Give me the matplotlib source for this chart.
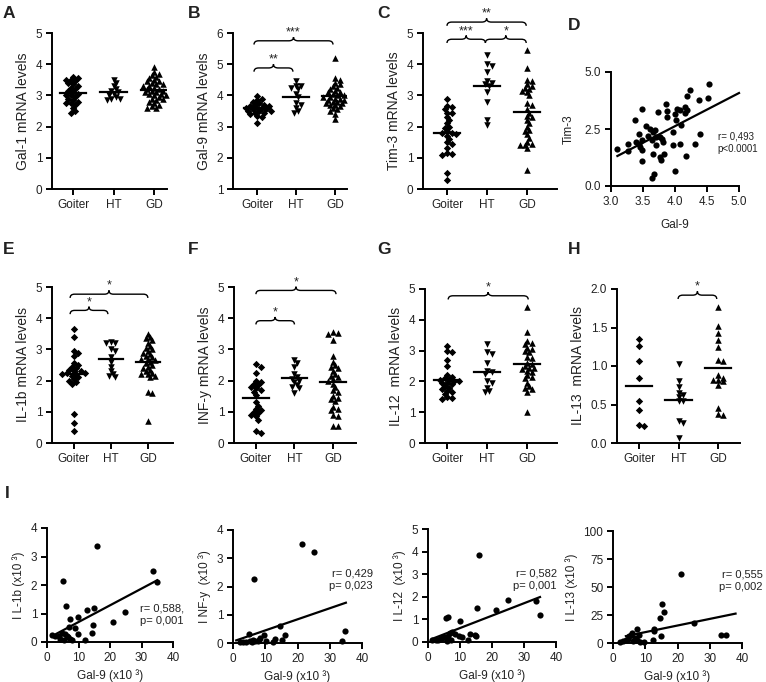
import numpy as np
import matplotlib
matplotlib.use('Agg')
import matplotlib.pyplot as plt
from matplotlib.path import Path
from matplotlib.patches import PathPatch

plt.rcParams['font.family'] = ['Liberation Sans', 'DejaVu Sans']

W, H = 766, 682
TXT = '#222222'

groups = ['Goiter', 'HT', 'GD']

# A - Gal-1 mRNA levels
gal1_goiter = [3.6, 3.55, 3.5, 3.5, 3.45, 3.4, 3.35, 3.3, 3.25, 3.2, 3.15, 3.1, 3.05, 3.0, 3.0,
               2.95, 2.9, 2.85, 2.8, 2.75, 2.75, 2.7, 2.6, 2.5, 2.45]
gal1_ht = [3.5, 3.4, 3.3, 3.2, 3.15, 3.1, 3.05, 3.0, 2.95, 2.9, 2.9, 2.85]
gal1_gd = [3.9, 3.75, 3.7, 3.65, 3.6, 3.55, 3.5, 3.45, 3.45, 3.4, 3.35, 3.35, 3.3, 3.3, 3.25, 3.2,
           3.2, 3.15, 3.15, 3.1, 3.1, 3.05, 3.05, 3.0, 3.0, 2.95, 2.9, 2.9, 2.85, 2.8, 2.75, 2.7,
           2.65, 2.6, 2.6]

# B - Gal-9 mRNA levels
gal9_goiter = [3.98, 3.9, 3.85, 3.8, 3.75, 3.7, 3.7, 3.65, 3.65, 3.6, 3.6, 3.6, 3.55, 3.55, 3.5,
               3.5, 3.5, 3.45, 3.45, 3.4, 3.35, 3.3, 3.1]
gal9_ht = [4.45, 4.3, 4.3, 4.25, 4.2, 4.05, 3.95, 3.75, 3.7, 3.6, 3.5, 3.45]
gal9_gd = [5.2, 4.55, 4.5, 4.4, 4.35, 4.3, 4.25, 4.2, 4.15, 4.1, 4.1, 4.05, 4.0, 4.0, 3.95, 3.95,
           3.9, 3.9, 3.85, 3.85, 3.8, 3.8, 3.75, 3.75, 3.7, 3.7, 3.65, 3.6, 3.55, 3.5, 3.4, 3.25]

# C - Tim-3 mRNA levels
tim3_goiter = [2.88, 2.65, 2.62, 2.55, 2.45, 2.42, 2.3, 2.2, 2.1, 2.0, 1.95, 1.85, 1.8, 1.8, 1.75,
               1.7, 1.6, 1.5, 1.45, 1.3, 1.15, 1.12, 1.1, 0.5, 0.3]
tim3_ht = [4.28, 4.0, 3.95, 3.75, 3.45, 3.4, 3.35, 3.3, 3.1, 2.8, 2.2, 2.05]
tim3_gd = [4.45, 3.88, 3.5, 3.45, 3.35, 3.3, 3.25, 3.2, 3.15, 3.1, 3.0, 2.75, 2.7, 2.55, 2.45,
           2.35, 2.3, 2.2, 2.1, 2.0, 1.9, 1.85, 1.75, 1.65, 1.5, 1.45, 1.4, 1.4, 1.3, 0.62]

# D - Tim-3 vs Gal-9
d_gal9 = [3.09, 3.26, 3.26, 3.38, 3.43, 3.39, 3.44, 3.45, 3.48, 3.49, 3.48, 3.48, 3.55, 3.58, 3.61,
          3.64, 3.65, 3.64, 3.67, 3.66, 3.69, 3.71, 3.71, 3.74, 3.77, 3.77, 3.78, 3.79, 3.82, 3.83,
          3.86, 3.87, 3.88, 3.97, 3.97, 4.0, 4.0, 4.01, 4.03, 4.08, 4.08, 4.1, 4.16, 4.16, 4.17,
          4.18, 4.19, 4.24, 4.31, 4.38, 4.39, 4.52, 4.53]
d_tim3 = [1.64, 1.86, 1.52, 2.88, 2.30, 1.93, 1.86, 1.71, 3.36, 2.0, 1.56, 1.10, 2.62, 2.18, 2.51,
          2.0, 2.37, 0.35, 0.54, 1.42, 2.44, 2.15, 1.78, 3.25, 2.15, 1.27, 1.15, 2.05, 1.93, 1.42,
          3.60, 3.03, 3.30, 1.78, 2.37, 3.16, 0.66, 2.88, 3.39, 3.33, 1.83, 2.66, 3.48, 3.22, 1.30,
          3.93, 3.33, 4.23, 1.83, 3.79, 2.30, 3.87, 4.46]

# E - IL-1b mRNA levels
il1b_goiter = [3.65, 3.4, 2.95, 2.9, 2.8, 2.55, 2.5, 2.45, 2.4, 2.35, 2.3, 2.3, 2.25, 2.25, 2.2,
               2.2, 2.15, 2.1, 2.05, 2.0, 1.95, 1.88, 0.92, 0.65, 0.4]
il1b_ht = [3.25, 3.2, 3.2, 3.0, 2.95, 2.75, 2.6, 2.45, 2.3, 2.2, 2.15, 2.1]
il1b_gd = [3.5, 3.4, 3.35, 3.3, 3.2, 3.1, 3.05, 3.0, 2.95, 2.9, 2.85, 2.8, 2.75, 2.7, 2.7, 2.65,
           2.6, 2.55, 2.5, 2.45, 2.4, 2.35, 2.3, 2.25, 2.2, 2.2, 2.15, 2.1, 1.65, 1.6, 0.7]

# F - INF-y mRNA levels
infg_goiter = [2.52, 2.45, 2.25, 2.0, 1.95, 1.9, 1.85, 1.8, 1.75, 1.7, 1.65, 1.55, 1.3, 1.2, 1.1,
               1.05, 1.0, 0.95, 0.9, 0.85, 0.75, 0.38, 0.33]
infg_ht = [2.65, 2.55, 2.45, 2.2, 2.1, 2.05, 2.0, 1.95, 1.85, 1.8, 1.75, 1.6]
infg_gd = [3.55, 3.52, 3.5, 3.3, 2.8, 2.6, 2.5, 2.45, 2.4, 2.3, 2.2, 2.15, 2.1, 2.05, 2.0, 1.9,
           1.8, 1.7, 1.65, 1.5, 1.45, 1.4, 1.35, 1.15, 1.1, 1.05, 0.9, 0.85, 0.55, 0.55]

# G - IL-12 mRNA levels
il12_goiter = [3.15, 2.98, 2.95, 2.7, 2.5, 2.2, 2.15, 2.1, 2.05, 2.05, 2.0, 2.0, 1.95, 1.95, 1.9,
               1.85, 1.8, 1.75, 1.7, 1.65, 1.6, 1.5, 1.45, 1.42]
il12_ht = [3.2, 2.95, 2.9, 2.6, 2.35, 2.3, 2.25, 2.0, 1.95, 1.8, 1.7, 1.65]
il12_gd = [4.4, 3.6, 3.3, 3.25, 3.2, 3.1, 3.05, 3.0, 2.95, 2.8, 2.75, 2.6, 2.55, 2.5, 2.45, 2.45,
           2.4, 2.35, 2.3, 2.2, 2.15, 2.1, 1.95, 1.85, 1.8, 1.75, 1.65, 1.0]

# H - IL-13 mRNA levels
il13_goiter = [1.35, 1.26, 1.06, 0.85, 0.55, 0.43, 0.22, 0.24]
il13_ht = [1.02, 0.8, 0.73, 0.65, 0.62, 0.6, 0.55, 0.55, 0.28, 0.26, 0.06]
il13_gd = [1.77, 1.52, 1.43, 1.34, 1.25, 1.08, 1.07, 0.88, 0.85, 0.82, 0.82, 0.8, 0.75, 0.45,
           0.37, 0.38]

# I - cytokines vs Gal-9 (x10^3)
i1_gal9 = [15.8, 33.5, 34.9, 5.05, 6.1, 15.05, 12.6, 9.8, 7.4, 24.9, 21.05, 14.7, 8.9, 7.05, 14.2,
           9.7, 12.1, 1.6, 2.6, 3.7, 4.2, 4.7, 5.8, 6.3, 6.8, 7.4, 7.9, 5.3]
i1_il1b = [3.37, 2.5, 2.09, 2.14, 1.25, 1.2, 1.12, 0.88, 0.8, 1.05, 0.7, 0.58, 0.48, 0.52, 0.32,
           0.27, 0.08, 0.24, 0.2, 0.21, 0.12, 0.3, 0.27, 0.2, 0.18, 0.12, 0.06, 0.06]
i2_gal9 = [21.4, 25.2, 6.6, 14.7, 34.8, 33.8, 16.0, 5.1, 13.1, 15.2, 9.5, 10.3, 8.5, 2.1, 3.1,
           4.1, 5.4, 6.2, 6.9, 7.8, 5.9, 12.5, 8.0]
i2_infg = [3.5, 3.22, 2.27, 0.61, 0.42, 0.08, 0.28, 0.31, 0.14, 0.09, 0.29, 0.06, 0.19, 0.02, 0.05,
           0.04, 0.07, 0.09, 0.06, 0.08, 0.02, 0.05, 0.12]
i3_gal9 = [15.8, 25.1, 21.3, 15.3, 33.6, 35.1, 5.5, 6.1, 9.9, 7.6, 6.8, 8.4, 13.1, 14.7, 15.0,
           9.7, 10.5, 12.6, 6.3, 7.3, 1.4, 2.4, 3.1, 3.7, 4.5, 5.0, 5.8]
i3_il12 = [3.86, 1.87, 1.43, 1.49, 1.8, 1.21, 1.06, 1.09, 0.94, 0.44, 0.40, 0.37, 0.37, 0.32, 0.25,
           0.28, 0.21, 0.1, 0.25, 0.07, 0.07, 0.1, 0.07, 0.13, 0.18, 0.22, 0.03]
i4_gal9 = [21.1, 15.3, 15.9, 14.5, 14.8, 25.1, 33.6, 35.0, 7.5, 8.1, 5.7, 5.8, 5.0, 12.5, 9.6,
           3.1, 2.1, 3.9, 6.75, 7.3, 6.2, 8.3, 12.8, 12.7, 4.5]
i4_il13 = [61.2, 34.6, 28.1, 22.2, 6.5, 17.8, 6.8, 6.8, 12.4, 7.4, 7.4, 8.9, 5.9, 2.4, 0.9,
           1.5, 0.9, 2.4, 4.4, 2.4, 1.5, 0.9, 11.0, 12.5, 3.5]

corr_text = ['r= 0,493\np<0.0001', 'r= 0,588,\np= 0,001', 'r= 0,429\np= 0,023',
             'r= 0,582\np= 0,001', 'r= 0,555\np= 0,002']


def px_axes(fig, x0, x1, y0, y1):
    # axes from pixel box (top-left origin)
    return fig.add_axes([x0 / W, 1 - y1 / H, (x1 - x0) / W, (y1 - y0) / H])


def style(ax, fs=8.5):
    ax.spines['top'].set_visible(False)
    ax.spines['right'].set_visible(False)
    ax.spines['left'].set_linewidth(1.4)
    ax.spines['bottom'].set_linewidth(1.4)
    ax.tick_params(width=1.4, length=4, labelsize=fs, labelcolor=TXT, pad=3)


def swarm(ax, xc, vals, d):
    # simple beeswarm in pixel space so markers don't pile up
    vals = np.asarray(vals, float)
    pts = ax.transData.transform(np.column_stack([np.full(len(vals), xc), vals]))
    x0 = pts[0, 0]
    ys = pts[:, 1]
    xs = np.full(len(vals), x0)
    placed = []
    steps = [0]
    for k in range(1, 30):
        steps += [k * d * 0.5, -k * d * 0.5]
    for i in np.argsort(-vals):
        for off in steps:
            ok = True
            for (px, py) in placed:
                if np.hypot(x0 + off - px, (ys[i] - py) * 1.3) < d:
                    ok = False
                    break
            if ok:
                xs[i] = x0 + off
                break
        placed.append((xs[i], ys[i]))
    inv = ax.transData.inverted()
    return inv.transform(np.column_stack([xs, ys]))[:, 0]


def brace(ax, x1, x2, y, label, h):
    w = 0.12
    xm = (x1 + x2) / 2
    verts = [(x1, y - h), (x1, y), (x1 + w, y), (xm - w, y), (xm, y), (xm, y + h),
             (xm, y), (xm + w, y), (x2 - w, y), (x2, y), (x2, y - h)]
    codes = [Path.MOVETO, Path.CURVE3, Path.CURVE3, Path.LINETO, Path.CURVE3, Path.CURVE3,
             Path.CURVE3, Path.CURVE3, Path.LINETO, Path.CURVE3, Path.CURVE3]
    ax.add_patch(PathPatch(Path(verts, codes), fc='none', ec='black', lw=1.0, clip_on=False))
    ax.text(xm, y + h * 0.6, label, ha='center', va='bottom', fontsize=9, color=TXT, clip_on=False)


def dot_panel(ax, data, xlim, ylim, yticks, ylabel, tick_fmt=None):
    ax.set_xlim(xlim)
    ax.set_ylim(ylim)
    style(ax)
    markers = ['D', 'v', '^']
    sizes = [14, 22, 22]
    for i, vals in enumerate(data):
        xs = swarm(ax, i, vals, 4.6)
        ax.scatter(xs, vals, marker=markers[i], s=sizes[i], c='black', linewidths=0, clip_on=False, zorder=3)
        m = np.mean(vals)
        ax.plot([i - 0.33, i + 0.33], [m, m], color='black', lw=1.6, zorder=4)
    ax.set_xticks(range(3))
    ax.set_xticklabels(groups)
    ax.set_yticks(yticks)
    if tick_fmt:
        ax.set_yticklabels([tick_fmt % t for t in yticks])
    ax.set_ylabel(ylabel, fontsize=10, color=TXT, labelpad=4)


def corr_panel(ax, x, y, xlim, ylim, xticks, yticks, line_x, xlabel, ylabel, fmt=None):
    ax.set_xlim(xlim)
    ax.set_ylim(ylim)
    style(ax)
    ax.scatter(x, y, s=20, c='black', linewidths=0, clip_on=False, zorder=3)
    slope, icpt = np.polyfit(x, y, 1)
    lx = np.array(line_x)
    ax.plot(lx, slope * lx + icpt, color='black', lw=1.6, clip_on=False)
    ax.set_xticks(xticks)
    ax.set_yticks(yticks)
    if fmt:
        ax.set_xticklabels([fmt % t for t in xticks])
        ax.set_yticklabels([fmt % t for t in yticks])
    ax.set_xlabel(xlabel, fontsize=8.5, color=TXT, labelpad=4)
    ax.set_ylabel(ylabel, fontsize=8.5, color=TXT, labelpad=4)


fig = plt.figure(figsize=(W / 100, H / 100), dpi=100)

# A
ax = px_axes(fig, 52, 167, 33, 189)
dot_panel(ax, [gal1_goiter, gal1_ht, gal1_gd], (-0.52, 2.32), (0, 5), range(6), 'Gal-1 mRNA levels')

# B
ax = px_axes(fig, 233, 347, 33, 189)
dot_panel(ax, [gal9_goiter, gal9_ht, gal9_gd], (-0.62, 2.31), (1, 6), range(1, 7), 'Gal-9 mRNA levels')
brace(ax, -0.08, 0.92, 4.88, '**', 0.12)
brace(ax, -0.08, 1.95, 5.75, '***', 0.12)

# C
ax = px_axes(fig, 423, 557, 33, 189)
dot_panel(ax, [tim3_goiter, tim3_ht, tim3_gd], (-0.6, 2.75), (0, 5), range(6), 'Tim-3 mRNA levels')
brace(ax, 0.0, 0.96, 4.8, '***', 0.12)
brace(ax, 0.96, 1.98, 4.8, '*', 0.12)
brace(ax, 0.0, 1.98, 5.35, '**', 0.12)

# D
ax = px_axes(fig, 611, 739, 72, 186)
corr_panel(ax, d_gal9, d_tim3, (3, 5), (0, 5), [3.0, 3.5, 4.0, 4.5, 5.0], [0, 2.5, 5.0],
           [3.1, 5.0], 'Gal-9', 'Tim-3', fmt='%.1f')
ax.xaxis.labelpad = 8
ax.yaxis.labelpad = 7
ax.text(4.67, 1.9, corr_text[0], fontsize=7, color=TXT, ha='left', va='center', linespacing=1.25)

# E
ax = px_axes(fig, 52, 173, 287, 443)
dot_panel(ax, [il1b_goiter, il1b_ht, il1b_gd], (-0.59, 2.68), (0, 5), range(6), 'IL-1b mRNA levels')
brace(ax, -0.1, 0.92, 4.25, '*', 0.12)
brace(ax, -0.1, 2.0, 4.77, '*', 0.12)

# F
ax = px_axes(fig, 234, 356, 287, 443)
dot_panel(ax, [infg_goiter, infg_ht, infg_gd], (-0.57, 2.6), (0, 5), range(6), 'INF-y mRNA levels')
brace(ax, 0.0, 1.0, 3.92, '*', 0.12)
brace(ax, 0.0, 2.08, 4.89, '*', 0.12)

# G
ax = px_axes(fig, 425, 557, 289, 443)
dot_panel(ax, [il12_goiter, il12_ht, il12_gd], (-0.55, 2.75), (0, 5), range(6), 'IL-12  mRNA levels')
brace(ax, 0.03, 2.03, 4.78, '*', 0.12)

# H
ax = px_axes(fig, 617, 740, 289, 443)
dot_panel(ax, [il13_goiter, il13_ht, il13_gd], (-0.56, 2.56), (0, 2), [0, 0.5, 1.0, 1.5, 2.0],
          'IL-13  mRNA levels', tick_fmt='%.1f')
brace(ax, 0.99, 1.97, 1.92, '*', 0.05)

# I row
ax = px_axes(fig, 47, 173, 528, 642)
corr_panel(ax, i1_gal9, i1_il1b, (0, 40), (0, 4), range(0, 41, 10), range(5), [3, 35],
           'Gal-9 (x10 ³)', 'I L-1b (x10 ³)')
ax.text(29.5, 0.95, corr_text[1], fontsize=8, color=TXT, ha='left', va='center', linespacing=1.3)

ax = px_axes(fig, 233, 362, 530, 643)
corr_panel(ax, i2_gal9, i2_infg, (0, 40), (0, 4), range(0, 41, 10), range(5), [1, 35],
           'Gal-9 (x10 ³)', 'I NF-y  (x10 ³)')
ax.text(43.4, 2.25, corr_text[2], fontsize=8, color=TXT, ha='right', va='center', linespacing=1.3)

ax = px_axes(fig, 428, 556, 529, 642)
corr_panel(ax, i3_gal9, i3_il12, (0, 40), (0, 5), range(0, 41, 10), range(6), [1.5, 35],
           'Gal-9 (x10 ³)', 'I L-12  (x10 ³)')
ax.text(40.3, 2.77, corr_text[3], fontsize=8, color=TXT, ha='right', va='center', linespacing=1.3)

ax = px_axes(fig, 613, 742, 531, 643)
corr_panel(ax, i4_gal9, i4_il13, (0, 40), (0, 100), range(0, 41, 10), range(0, 101, 25), [4, 38],
           'Gal-9 (x10 ³)', 'I L-13 (x10 ³)')
ax.text(46.5, 55.8, corr_text[4], fontsize=8, color=TXT, ha='right', va='center', linespacing=1.3)

# panel letters
letters = [('A', 3, 14), ('B', 188, 14), ('C', 377, 14), ('D', 568, 26),
           ('E', 3, 250), ('F', 188, 250), ('G', 377, 250), ('H', 568, 250), ('I', 5, 493)]
for lab, x, y in letters:
    fig.text(x / W, 1 - y / H, lab, fontsize=12.5, fontweight='bold', color=TXT, ha='left', va='center')

fig.savefig('out.png', dpi=100)
